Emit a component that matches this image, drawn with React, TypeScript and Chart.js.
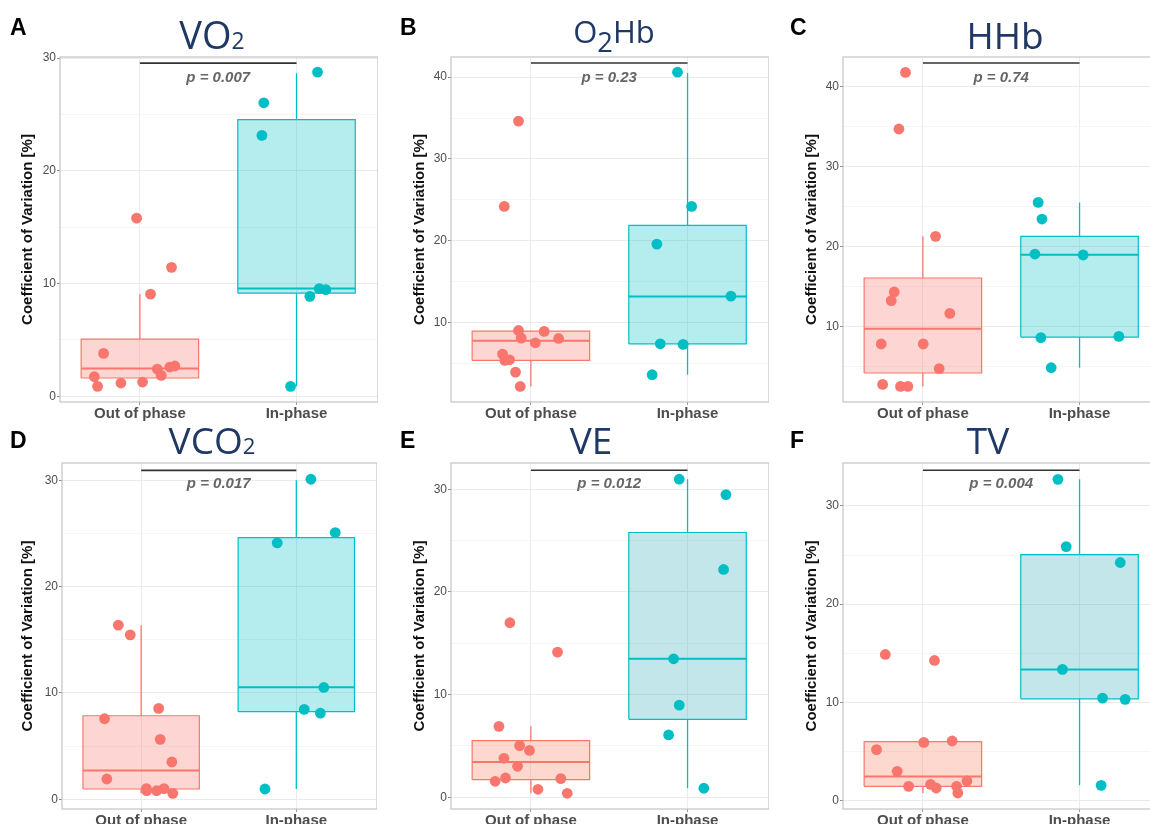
import React, { useEffect, useRef } from 'react';
import { Chart, registerables } from 'chart.js';

Chart.register(...registerables);

// ---------- categories & labels ----------
const groups = ['Out of phase', 'In-phase'];
const yAxisTitle = 'Coefficient of Variation [%]';

// ---------- Panel A: VO2 ----------
const vo2OutX = [0.979, 1.202, 1.068, 0.768, 0.709, 0.73, 0.879, 1.017, 1.111, 1.136, 1.191, 1.223];
const vo2OutY = [15.8, 11.44, 9.07, 3.81, 1.74, 0.89, 1.18, 1.27, 2.42, 1.86, 2.6, 2.69];
const vo2InX = [2.134, 1.791, 1.779, 2.145, 2.187, 2.085, 1.962];
const vo2InY = [28.75, 26.03, 23.14, 9.55, 9.46, 8.87, 0.89];
// box: [lower whisker, Q1, median, Q3, upper whisker]
const vo2OutBox = [0.89, 1.63, 2.48, 5.08, 9.07];
const vo2InBox = [0.89, 9.16, 9.57, 24.53, 28.66];
const vo2Ticks = [0, 10, 20, 30];

// ---------- Panel B: O2Hb ----------
const oxyOutX = [0.921, 0.83, 0.921, 1.085, 0.938, 1.177, 1.028, 0.819, 0.834, 0.864, 0.902, 0.932];
const oxyOutY = [34.62, 24.19, 9.02, 8.9, 8.08, 8.04, 7.51, 6.13, 5.35, 5.43, 3.93, 2.17];
const oxyInX = [1.936, 2.026, 1.804, 2.277, 1.826, 1.972, 1.774];
const oxyInY = [40.61, 24.19, 19.58, 13.22, 7.39, 7.31, 3.6];
const oxyOutBox = [2.17, 5.35, 7.76, 8.94, 9.02];
const oxyInBox = [3.6, 7.39, 13.18, 21.86, 40.49];
const oxyTicks = [10, 20, 30, 40];

// ---------- Panel C: HHb ----------
const hhbOutX = [0.889, 0.847, 1.081, 0.817, 0.798, 1.172, 0.734, 1.002, 1.104, 0.743, 0.857, 0.904];
const hhbOutY = [41.75, 34.68, 21.28, 14.33, 13.25, 11.66, 7.84, 7.84, 4.76, 2.8, 2.55, 2.55];
const hhbInX = [1.736, 1.76, 1.715, 2.023, 1.753, 2.251, 1.819];
const hhbInY = [25.52, 23.44, 19.07, 18.95, 8.63, 8.79, 4.88];
const hhbOutBox = [2.55, 4.22, 9.75, 16.08, 21.28];
const hhbInBox = [4.88, 8.71, 18.99, 21.28, 25.5];
const hhbTicks = [10, 20, 30, 40];

// ---------- Panel D: VCO2 ----------
const vco2OutX = [0.853, 0.93, 0.764, 1.113, 1.123, 1.198, 0.779, 1.034, 1.036, 1.1, 1.147, 1.204];
const vco2OutY = [16.38, 15.47, 7.58, 8.55, 5.64, 3.51, 1.91, 1.0, 0.81, 0.81, 1.0, 0.56];
const vco2InX = [2.094, 2.251, 1.877, 2.177, 2.051, 2.155, 1.798];
const vco2InY = [30.1, 25.09, 24.12, 10.52, 8.46, 8.11, 0.97];
const vco2OutBox = [0.56, 0.97, 2.72, 7.86, 16.38];
const vco2InBox = [0.97, 8.24, 10.55, 24.62, 30.0];
const vco2Ticks = [0, 10, 20, 30];

// ---------- Panel E: VE ----------
const veOutX = [0.866, 1.17, 0.796, 0.928, 0.991, 0.828, 0.915, 0.772, 0.838, 1.191, 1.045, 1.232];
const veOutY = [17.0, 14.14, 6.91, 5.03, 4.57, 3.8, 3.02, 1.56, 1.88, 1.82, 0.78, 0.39];
const veInX = [1.947, 2.245, 2.23, 1.911, 1.947, 1.879, 2.104];
const veInY = [30.98, 29.48, 22.19, 13.49, 8.98, 6.07, 0.88];
const veOutBox = [0.39, 1.72, 3.44, 5.51, 6.91];
const veInBox = [0.88, 7.59, 13.49, 25.79, 30.98];
const veTicks = [0, 10, 20, 30];

// ---------- Panel F: TV ----------
const tvOutX = [0.76, 1.074, 0.704, 1.006, 1.187, 0.836, 0.909, 1.049, 1.085, 1.215, 1.281, 1.223];
const tvOutY = [14.88, 14.27, 5.19, 5.93, 6.07, 2.98, 1.46, 1.66, 1.29, 1.46, 2.0, 0.78];
const tvInX = [1.862, 1.915, 2.26, 1.891, 2.147, 2.291, 2.138];
const tvInY = [32.71, 25.86, 24.24, 13.36, 10.44, 10.31, 1.56];
const tvOutBox = [0.78, 1.46, 2.47, 6.0, 6.07];
const tvInBox = [1.56, 10.37, 13.36, 25.05, 32.71];
const tvTicks = [0, 10, 20, 30];

// ---------- p-values ----------
const pLabels = ['p = 0.007', 'p = 0.23', 'p = 0.74', 'p = 0.017', 'p = 0.012', 'p = 0.004'];

// ---------- styling ----------
const SANS = '"Liberation Sans", Arial, Helvetica, sans-serif';
const TITLE_FONT = '"Open Sans", "Noto Sans", sans-serif';
const NAVY = '#1f3864';
const SALMON = '#F8766D';
const TEAL = '#00BFC4';
const SALMON_FILL = 'rgba(248,118,109,0.3)';
const TEAL_FILL = 'rgba(0,191,196,0.29)';
const TEAL_FILL_2 = 'rgba(40,165,180,0.28)';
const SALMON_FILL_2 = 'rgba(245,125,95,0.3)';
const X_MIN = 0.49;
const X_MAX = 2.52;
const BOX_HALF = 0.375;
const PAD_TOP = 12;
const X_AXIS_H = 24;

type Rect = { l: number; t: number; r: number; b: number };
type PanelCfg = {
  id: string;
  outX: number[]; outY: number[]; inX: number[]; inY: number[];
  outBox: number[]; inBox: number[];
  yMin: number; yMax: number; yTicks: number[];
  bracketY: number; pY: number; p: string;
  plot: Rect; yTitleCx: number;
  outFill: string; inFill: string;
};

const panels: PanelCfg[] = [
  { id: 'A', outX: vo2OutX, outY: vo2OutY, inX: vo2InX, inY: vo2InY, outBox: vo2OutBox, inBox: vo2InBox,
    yMin: -0.5, yMax: 30.09, yTicks: vo2Ticks, bracketY: 29.55, pY: 28.22, p: pLabels[0],
    plot: { l: 60, t: 57, r: 378, b: 402 }, yTitleCx: 28, outFill: SALMON_FILL, inFill: TEAL_FILL },
  { id: 'B', outX: oxyOutX, outY: oxyOutY, inX: oxyInX, inY: oxyInY, outBox: oxyOutBox, inBox: oxyInBox,
    yMin: 0.27, yMax: 42.46, yTicks: oxyTicks, bracketY: 41.72, pY: 39.88, p: pLabels[1],
    plot: { l: 451, t: 57, r: 769, b: 402 }, yTitleCx: 420, outFill: SALMON_FILL, inFill: TEAL_FILL },
  { id: 'C', outX: hhbOutX, outY: hhbOutY, inX: hhbInX, inY: hhbInY, outBox: hhbOutBox, inBox: hhbInBox,
    yMin: 0.6, yMax: 43.67, yTicks: hhbTicks, bracketY: 42.92, pY: 41.04, p: pLabels[2],
    plot: { l: 843, t: 57, r: 1161, b: 402 }, yTitleCx: 812, outFill: SALMON_FILL, inFill: TEAL_FILL },
  { id: 'D', outX: vco2OutX, outY: vco2OutY, inX: vco2InX, inY: vco2InY, outBox: vco2OutBox, inBox: vco2InBox,
    yMin: -0.91, yMax: 31.63, yTicks: vco2Ticks, bracketY: 30.94, pY: 29.63, p: pLabels[3],
    plot: { l: 62, t: 463, r: 377, b: 809 }, yTitleCx: 28, outFill: SALMON_FILL, inFill: TEAL_FILL },
  { id: 'E', outX: veOutX, outY: veOutY, inX: veInX, inY: veInY, outBox: veOutBox, inBox: veInBox,
    yMin: -1.14, yMax: 32.56, yTicks: veTicks, bracketY: 31.85, pY: 30.49, p: pLabels[4],
    plot: { l: 451, t: 463, r: 769, b: 809 }, yTitleCx: 420, outFill: SALMON_FILL_2, inFill: TEAL_FILL_2 },
  { id: 'F', outX: tvOutX, outY: tvOutY, inX: tvInX, inY: tvInY, outBox: tvOutBox, inBox: tvInBox,
    yMin: -0.85, yMax: 34.37, yTicks: tvTicks, bracketY: 33.63, pY: 32.2, p: pLabels[5],
    plot: { l: 843, t: 463, r: 1161, b: 809 }, yTitleCx: 812, outFill: SALMON_FILL_2, inFill: TEAL_FILL_2 },
];

const toPts = (xs: number[], ys: number[]) => xs.map((x, i) => ({ x, y: ys[i] }));

function boxSets(center: number, box: number[], color: string, fill: string) {
  const [lo, q1, med, q3, hi] = box;
  const x0 = center - BOX_HALF;
  const x1 = center + BOX_HALF;
  const base = { showLine: true, pointRadius: 0, pointHoverRadius: 0 };
  return {
    fill: { ...base, data: [{ x: x0, y: q3 }, { x: x1, y: q3 }], fill: { value: q1 },
      backgroundColor: fill, borderColor: 'rgba(0,0,0,0)', borderWidth: 1 },
    outline: { ...base, data: [{ x: x0, y: q1 }, { x: x0, y: q3 }, { x: x1, y: q3 }, { x: x1, y: q1 }, { x: x0, y: q1 }],
      fill: false, borderColor: color, borderWidth: 1.2, backgroundColor: 'rgba(0,0,0,0)' },
    median: { ...base, data: [{ x: x0, y: med }, { x: x1, y: med }], fill: false, borderColor: color, borderWidth: 2 },
    whisker: { ...base, data: [{ x: center, y: q3 }, { x: center, y: hi }, { x: center, y: null }, { x: center, y: q1 }, { x: center, y: lo }],
      fill: false, spanGaps: false, borderColor: color, borderWidth: 1.3 },
  };
}

const panelBorder = {
  id: 'panelBorder',
  beforeDatasetsDraw(chart: any) {
    const { ctx, chartArea } = chart;
    ctx.save();
    ctx.strokeStyle = '#c4c4c4';
    ctx.lineWidth = 1.2;
    ctx.strokeRect(chartArea.left, chartArea.top, chartArea.right - chartArea.left, chartArea.bottom - chartArea.top);
    ctx.restore();
  },
};

function Panel({ cfg }: { cfg: PanelCfg }) {
  const ref = useRef<HTMLCanvasElement | null>(null);
  const canvasLeft = Math.round(cfg.yTitleCx - 9);
  const yAxisW = cfg.plot.l - canvasLeft;
  const canvasTop = cfg.plot.t - PAD_TOP;
  const width = cfg.plot.r - canvasLeft;
  const height = PAD_TOP + (cfg.plot.b - cfg.plot.t) + X_AXIS_H;

  useEffect(() => {
    if (!ref.current) return;
    const o = boxSets(1, cfg.outBox, SALMON, cfg.outFill);
    const n = boxSets(2, cfg.inBox, TEAL, cfg.inFill);
    const minor = cfg.yTicks.flatMap((v) => [v - 5, v + 5]);
    const gridVals = Array.from(new Set([...cfg.yTicks, ...minor]))
      .filter((v) => v >= cfg.yMin && v <= cfg.yMax)
      .sort((a, b) => a - b);
    const isMajor = (v: number) => cfg.yTicks.includes(v);

    const pLabel = {
      id: 'pLabel',
      afterDatasetsDraw(chart: any) {
        const { ctx, scales } = chart;
        ctx.save();
        ctx.font = `italic bold 15px ${SANS}`;
        ctx.fillStyle = '#666666';
        ctx.textAlign = 'center';
        ctx.textBaseline = 'middle';
        ctx.fillText(cfg.p, scales.x.getPixelForValue(1.5), scales.y.getPixelForValue(cfg.pY));
        ctx.restore();
      },
    };

    const chart = new Chart(ref.current, {
      type: 'scatter',
      data: {
        datasets: [
          { data: toPts(cfg.outX, cfg.outY), backgroundColor: SALMON, borderColor: SALMON, borderWidth: 0, pointRadius: 5.4 },
          { data: toPts(cfg.inX, cfg.inY), backgroundColor: TEAL, borderColor: TEAL, borderWidth: 0, pointRadius: 5.4 },
          { data: [{ x: 1, y: cfg.bracketY }, { x: 2, y: cfg.bracketY }], showLine: true, pointRadius: 0, borderColor: '#333333', borderWidth: 1.6 },
          o.median, n.median, o.outline, n.outline, o.whisker, n.whisker, o.fill, n.fill,
        ] as any,
      },
      options: {
        animation: false,
        responsive: false,
        maintainAspectRatio: false,
        events: [],
        layout: { padding: { top: PAD_TOP, left: 0, right: 0, bottom: 0 }, autoPadding: false },
        plugins: { legend: { display: false }, tooltip: { enabled: false }, filler: { propagate: false } },
        scales: {
          x: {
            type: 'linear',
            min: X_MIN,
            max: X_MAX,
            afterFit: (s: any) => { s.height = X_AXIS_H; },
            afterBuildTicks: (s: any) => { s.ticks = [{ value: 1 }, { value: 2 }]; },
            ticks: {
              callback: (v: any) => (v === 1 ? groups[0] : v === 2 ? groups[1] : ''),
              font: { family: SANS, size: 15, weight: 'bold' },
              color: '#4d4d4d',
              padding: 0,
              autoSkip: false,
              maxRotation: 0,
            },
            grid: { color: '#ececec', lineWidth: 1, tickLength: 3, tickColor: '#9a9a9a' },
            border: { display: false },
          },
          y: {
            type: 'linear',
            min: cfg.yMin,
            max: cfg.yMax,
            afterFit: (s: any) => { s.width = yAxisW; },
            afterBuildTicks: (s: any) => { s.ticks = gridVals.map((v) => ({ value: v })); },
            ticks: {
              callback: (v: any) => (isMajor(v) ? String(v) : ''),
              font: { family: SANS, size: 12 },
              color: '#4d4d4d',
              padding: 1,
              autoSkip: false,
            },
            grid: {
              color: (c: any) => (isMajor(c.tick?.value) ? '#ebebeb' : '#f5f5f5'),
              lineWidth: 1,
              tickLength: 3,
              tickColor: (c: any) => (isMajor(c.tick?.value) ? '#8a8a8a' : 'rgba(0,0,0,0)'),
            },
            border: { display: false },
            title: {
              display: true,
              text: yAxisTitle,
              font: { family: SANS, size: 15, weight: 'bold' },
              color: '#111111',
              padding: { top: 0, bottom: 0 },
            },
          },
        },
      } as any,
      plugins: [panelBorder, pLabel],
    });
    return () => chart.destroy();
  }, [cfg]);

  return (
    <canvas
      ref={ref}
      width={width}
      height={height}
      style={{ position: 'absolute', left: canvasLeft, top: canvasTop, width, height }}
    />
  );
}

const sub = (s: string, style: React.CSSProperties) => <span style={style}>{s}</span>;

const titles = [
  { cx: 212, top: 14.5, size: 38, node: <>VO{sub('2', { fontSize: '0.6em' })}</> },
  { cx: 614, top: 15.5, size: 31, node: <>O{sub('2', { fontSize: '0.88em', position: 'relative', top: '0.33em' })}Hb</> },
  { cx: 1005, top: 15.5, size: 37, node: <>HHb</> },
  { cx: 212, top: 420.5, size: 37, node: <>VCO{sub('2', { fontSize: '0.6em' })}</> },
  { cx: 591, top: 420.5, size: 37, node: <>VE</> },
  { cx: 988, top: 420.5, size: 37, node: <>TV</> },
];

const letters = [
  { t: 'A', x: 10, y: 15.5 },
  { t: 'B', x: 400, y: 15.5 },
  { t: 'C', x: 790, y: 15.5 },
  { t: 'D', x: 10, y: 429 },
  { t: 'E', x: 400, y: 429 },
  { t: 'F', x: 790, y: 429 },
];

export default function App() {
  return (
    <div style={{ position: 'absolute', left: 0, top: 0, width: 1150, height: 824, overflow: 'hidden', background: '#ffffff' }}>
      {panels.map((p) => <Panel key={p.id} cfg={p} />)}
      {titles.map((t, i) => (
        <div key={'t' + i} style={{ position: 'absolute', left: t.cx - 150, top: t.top, width: 300, textAlign: 'center',
          fontFamily: TITLE_FONT, fontSize: t.size, lineHeight: 1, color: NAVY, whiteSpace: 'nowrap' }}>
          {t.node}
        </div>
      ))}
      {letters.map((l) => (
        <div key={l.t} style={{ position: 'absolute', left: l.x, top: l.y, fontFamily: SANS, fontWeight: 'bold',
          fontSize: 23, lineHeight: 1, color: '#000' }}>
          {l.t}
        </div>
      ))}
    </div>
  );
}
